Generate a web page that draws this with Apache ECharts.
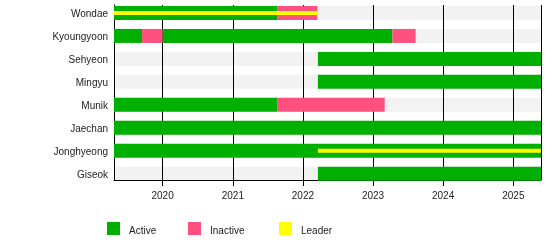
<!DOCTYPE html>
<html><head><meta charset="utf-8">
<script src="https://cdn.jsdelivr.net/npm/echarts@6/dist/echarts.min.js"></script>
<style>html,body{margin:0;padding:0;background:#fff}#c{width:550px;height:250px}</style>
</head><body><div id="c"></div>
<script>
const members = ['Wondae','Kyoungyoon','Sehyeon','Mingyu','Munik','Jaechan','Jonghyeong','Giseok'];
const chartStart = '2019-04-23';
const chartEnd = '2025-05-25';
const activeSpans = [
  ['Wondae','2019-04-23','2021-08-22'],
  ['Kyoungyoon','2019-04-23','2019-09-16'],
  ['Kyoungyoon','2020-01-01','2023-04-12'],
  ['Sehyeon','2022-03-20','2025-05-25'],
  ['Mingyu','2022-03-20','2025-05-25'],
  ['Munik','2019-04-23','2021-08-22'],
  ['Jaechan','2019-04-23','2025-05-25'],
  ['Jonghyeong','2019-04-23','2025-05-25'],
  ['Giseok','2022-03-20','2025-05-25']
];
const inactiveSpans = [
  ['Wondae','2021-08-22','2022-03-17'],
  ['Kyoungyoon','2019-09-16','2020-01-01'],
  ['Kyoungyoon','2023-04-12','2023-08-11'],
  ['Munik','2021-08-22','2023-03-03']
];
const leaderSpans = [
  ['Wondae','2019-04-23','2022-03-17'],
  ['Jonghyeong','2022-03-20','2025-05-25']
];

function ts(s){ const p = s.split('-').map(Number); return Date.UTC(p[0], p[1]-1, p[2]); }
function toData(spans){ return spans.map(r => [members.indexOf(r[0]), ts(r[1]), ts(r[2])]); }
const stripeData = members.map((m,i) => [i, ts(chartStart), ts(chartEnd)]);

function makeRender(h){
  return function(params, api){
    const cat = api.value(0);
    const s = api.coord([api.value(1), cat]);
    const e = api.coord([api.value(2), cat]);
    const cs = params.coordSys;
    const rect = echarts.graphic.clipRectByRect(
      {x: s[0], y: s[1] - h/2, width: e[0] - s[0], height: h},
      {x: cs.x, y: cs.y - 10, width: cs.width, height: cs.height + 20});
    return rect && {type: 'rect', shape: rect, style: api.style()};
  };
}

const FONT = 'Liberation Sans, Arial, sans-serif';
const GREEN = '#00b000', PINK = '#ff5080', YELLOW = '#ffff00';
const LEFT = 114, RIGHT = 9;
const legendText = {fontSize: 10, color: '#222', fontFamily: FONT,
  rich: {t: {fontSize: 10, color: '#222', fontFamily: FONT, padding: [5,0,0,4]}}};

const chart = echarts.init(document.getElementById('c'), null, {renderer: 'canvas'});
chart.setOption({
  useUTC: true,
  animation: false,
  backgroundColor: '#fff',
  textStyle: {fontFamily: FONT},
  grid: [
    {left: LEFT, right: RIGHT, top: 5, height: 175},
    {left: LEFT, right: RIGHT, top: 1.5, height: 183.7},
    {left: LEFT, right: RIGHT, top: 3, height: 183.7}
  ],
  xAxis: [
    {type: 'time', gridIndex: 0, min: ts(chartStart), max: ts(chartEnd),
     splitNumber: 6, minInterval: 365*86400000, maxInterval: 366*86400000,
     axisLine: {show: true, lineStyle: {color: '#000', width: 1}},
     axisTick: {show: true, length: 6, lineStyle: {color: '#000', width: 1}},
     splitLine: {show: true, lineStyle: {color: '#000', width: 1}},
     axisLabel: {formatter: '{yyyy}', color: '#222', fontSize: 10, fontFamily: FONT, margin: 11,
                 showMinLabel: false, showMaxLabel: false}},
    {type: 'time', gridIndex: 1, min: ts(chartStart), max: ts(chartEnd), show: false},
    {type: 'time', gridIndex: 2, min: ts(chartStart), max: ts(chartEnd), show: false}
  ],
  yAxis: [
    {type: 'value', gridIndex: 0, min: 0, max: 1,
     axisLine: {show: true, lineStyle: {color: '#000', width: 1}},
     axisTick: {show: false}, axisLabel: {show: false}, splitLine: {show: false}},
    {type: 'category', gridIndex: 1, data: members, inverse: true, show: false},
    {type: 'category', gridIndex: 2, data: members, inverse: true,
     axisLine: {show: false}, axisTick: {show: false}, splitLine: {show: false},
     axisLabel: {color: '#222', fontSize: 10, fontFamily: FONT, margin: 6}}
  ],
  legend: [
    {left: 107, top: 222, padding: 0, icon: 'rect', itemWidth: 13, itemHeight: 13, data: ['Active'],
     formatter: '{t|{name}}', textStyle: legendText},
    {left: 188, top: 222, padding: 0, icon: 'rect', itemWidth: 13, itemHeight: 13, data: ['Inactive'],
     formatter: '{t|{name}}', textStyle: legendText},
    {left: 279, top: 222, padding: 0, icon: 'rect', itemWidth: 13, itemHeight: 13, data: ['Leader'],
     formatter: '{t|{name}}', textStyle: legendText}
  ],
  series: [
    {type: 'custom', name: 'stripes', xAxisIndex: 1, yAxisIndex: 1, z: -1, silent: true,
     renderItem: makeRender(14), itemStyle: {color: '#f2f2f2'},
     encode: {x: [1,2], y: 0}, data: stripeData},
    {type: 'custom', name: 'Active', xAxisIndex: 1, yAxisIndex: 1, z: 2,
     renderItem: makeRender(14), itemStyle: {color: GREEN},
     encode: {x: [1,2], y: 0}, data: toData(activeSpans)},
    {type: 'custom', name: 'Inactive', xAxisIndex: 1, yAxisIndex: 1, z: 3,
     renderItem: makeRender(14), itemStyle: {color: PINK},
     encode: {x: [1,2], y: 0}, data: toData(inactiveSpans)},
    {type: 'custom', name: 'Leader', xAxisIndex: 1, yAxisIndex: 1, z: 4,
     renderItem: makeRender(4), itemStyle: {color: YELLOW},
     encode: {x: [1,2], y: 0}, data: toData(leaderSpans)}
  ]
});
</script></body></html>
